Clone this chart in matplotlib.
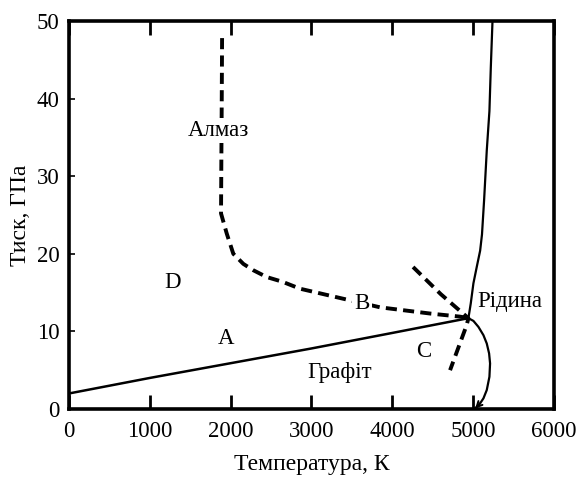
import matplotlib
matplotlib.use("Agg")
import matplotlib.pyplot as plt

plt.rcParams['font.family'] = ['Liberation Serif', 'DejaVu Serif']
plt.rcParams['lines.scale_dashes'] = False

# graphite-diamond equilibrium line (solid)
gd_T = [0, 1000, 2000, 3000, 4000, 4940]
gd_P = [2.0, 4.0, 5.9, 7.8, 9.8, 11.7]

# graphite melting line
gm_T = [4942, 5004, 5066, 5128, 5169, 5198, 5210, 5202, 5169, 5128, 5087, 5025]
gm_P = [11.7, 11.35, 10.58, 9.51, 8.44, 7.16, 5.87, 4.15, 2.44, 1.37, 0.73, 0.05]

# diamond melting line
dm_T = [4942, 4971, 5004, 5045, 5087, 5110, 5136, 5169, 5202, 5219, 5240]
dm_P = [11.7, 13.6, 16.2, 18.3, 20.4, 22.5, 26.9, 33.3, 38.4, 44.0, 50.0]

# metastable boundary (dashed, B)
b_T = [1894, 1890, 1885, 1881, 1952, 2033, 2157, 2277, 2447, 2640, 2859,
       3437, 3849, 4468, 4839, 4942]
b_P = [47.8, 40.0, 32.0, 25.2, 22.6, 20.0, 18.7, 17.9, 17.0, 16.4, 15.5,
       14.1, 13.1, 12.3, 11.9, 11.7]

# dashed line through triple point (C)
c_T = [4257, 4600, 4942, 4920, 4715]
c_P = [18.3, 14.8, 11.7, 10.8, 5.0]

labels = ["Алмаз", "D", "A", "B", "Рідина", "C", "Графіт"]
lab_T = [1844, 1287, 1943, 3626, 5454, 4385, 3344]
lab_P = [35.9, 16.3, 9.1, 13.6, 13.8, 7.4, 4.75]

fig = plt.figure(figsize=(5.77, 4.78), dpi=100)
ax = fig.add_axes([0.1196, 0.1444, 0.8404, 0.8116])

ax.plot(gd_T, gd_P, color='black', lw=1.8)
ax.plot(gm_T, gm_P, color='black', lw=1.6)
ax.annotate('', xy=(gm_T[-1], gm_P[-1]), xytext=(gm_T[-2], gm_P[-2]),
            arrowprops=dict(arrowstyle='->', color='black', lw=1.4,
                            mutation_scale=10, shrinkA=0, shrinkB=0))
ax.plot(dm_T, dm_P, color='black', lw=1.6)
ax.plot(b_T, b_P, color='black', lw=2.8, dashes=(8, 4.5))
ax.plot(c_T, c_P, color='black', lw=2.8, dashes=(8, 4.5))

for s, t, p in zip(labels, lab_T, lab_P):
    kw = {}
    if s in ("B", "Алмаз"):
        kw['bbox'] = dict(facecolor='white', edgecolor='none', pad=1.5)
    ax.text(t, p, s, fontsize=16.5, ha='center', va='center', zorder=5, **kw)

ax.set_xlim(0, 6000)
ax.set_ylim(0, 50)
ax.set_xticks([0, 1000, 2000, 3000, 4000, 5000, 6000])
ax.set_yticks([0, 10, 20, 30, 40, 50])
ax.tick_params(axis='x', direction='in', length=10, width=2, labelsize=16.5,
               pad=9, top=True)
ax.tick_params(axis='y', direction='in', length=4, width=1.2, labelsize=16.5,
               pad=7)
for sp in ax.spines.values():
    sp.set_linewidth(2.6)

ax.set_xlabel('Температура, К', fontsize=17, labelpad=8)
ax.set_ylabel('Тиск, ГПа', fontsize=17, labelpad=4)

fig.savefig('out.png', dpi=100)
